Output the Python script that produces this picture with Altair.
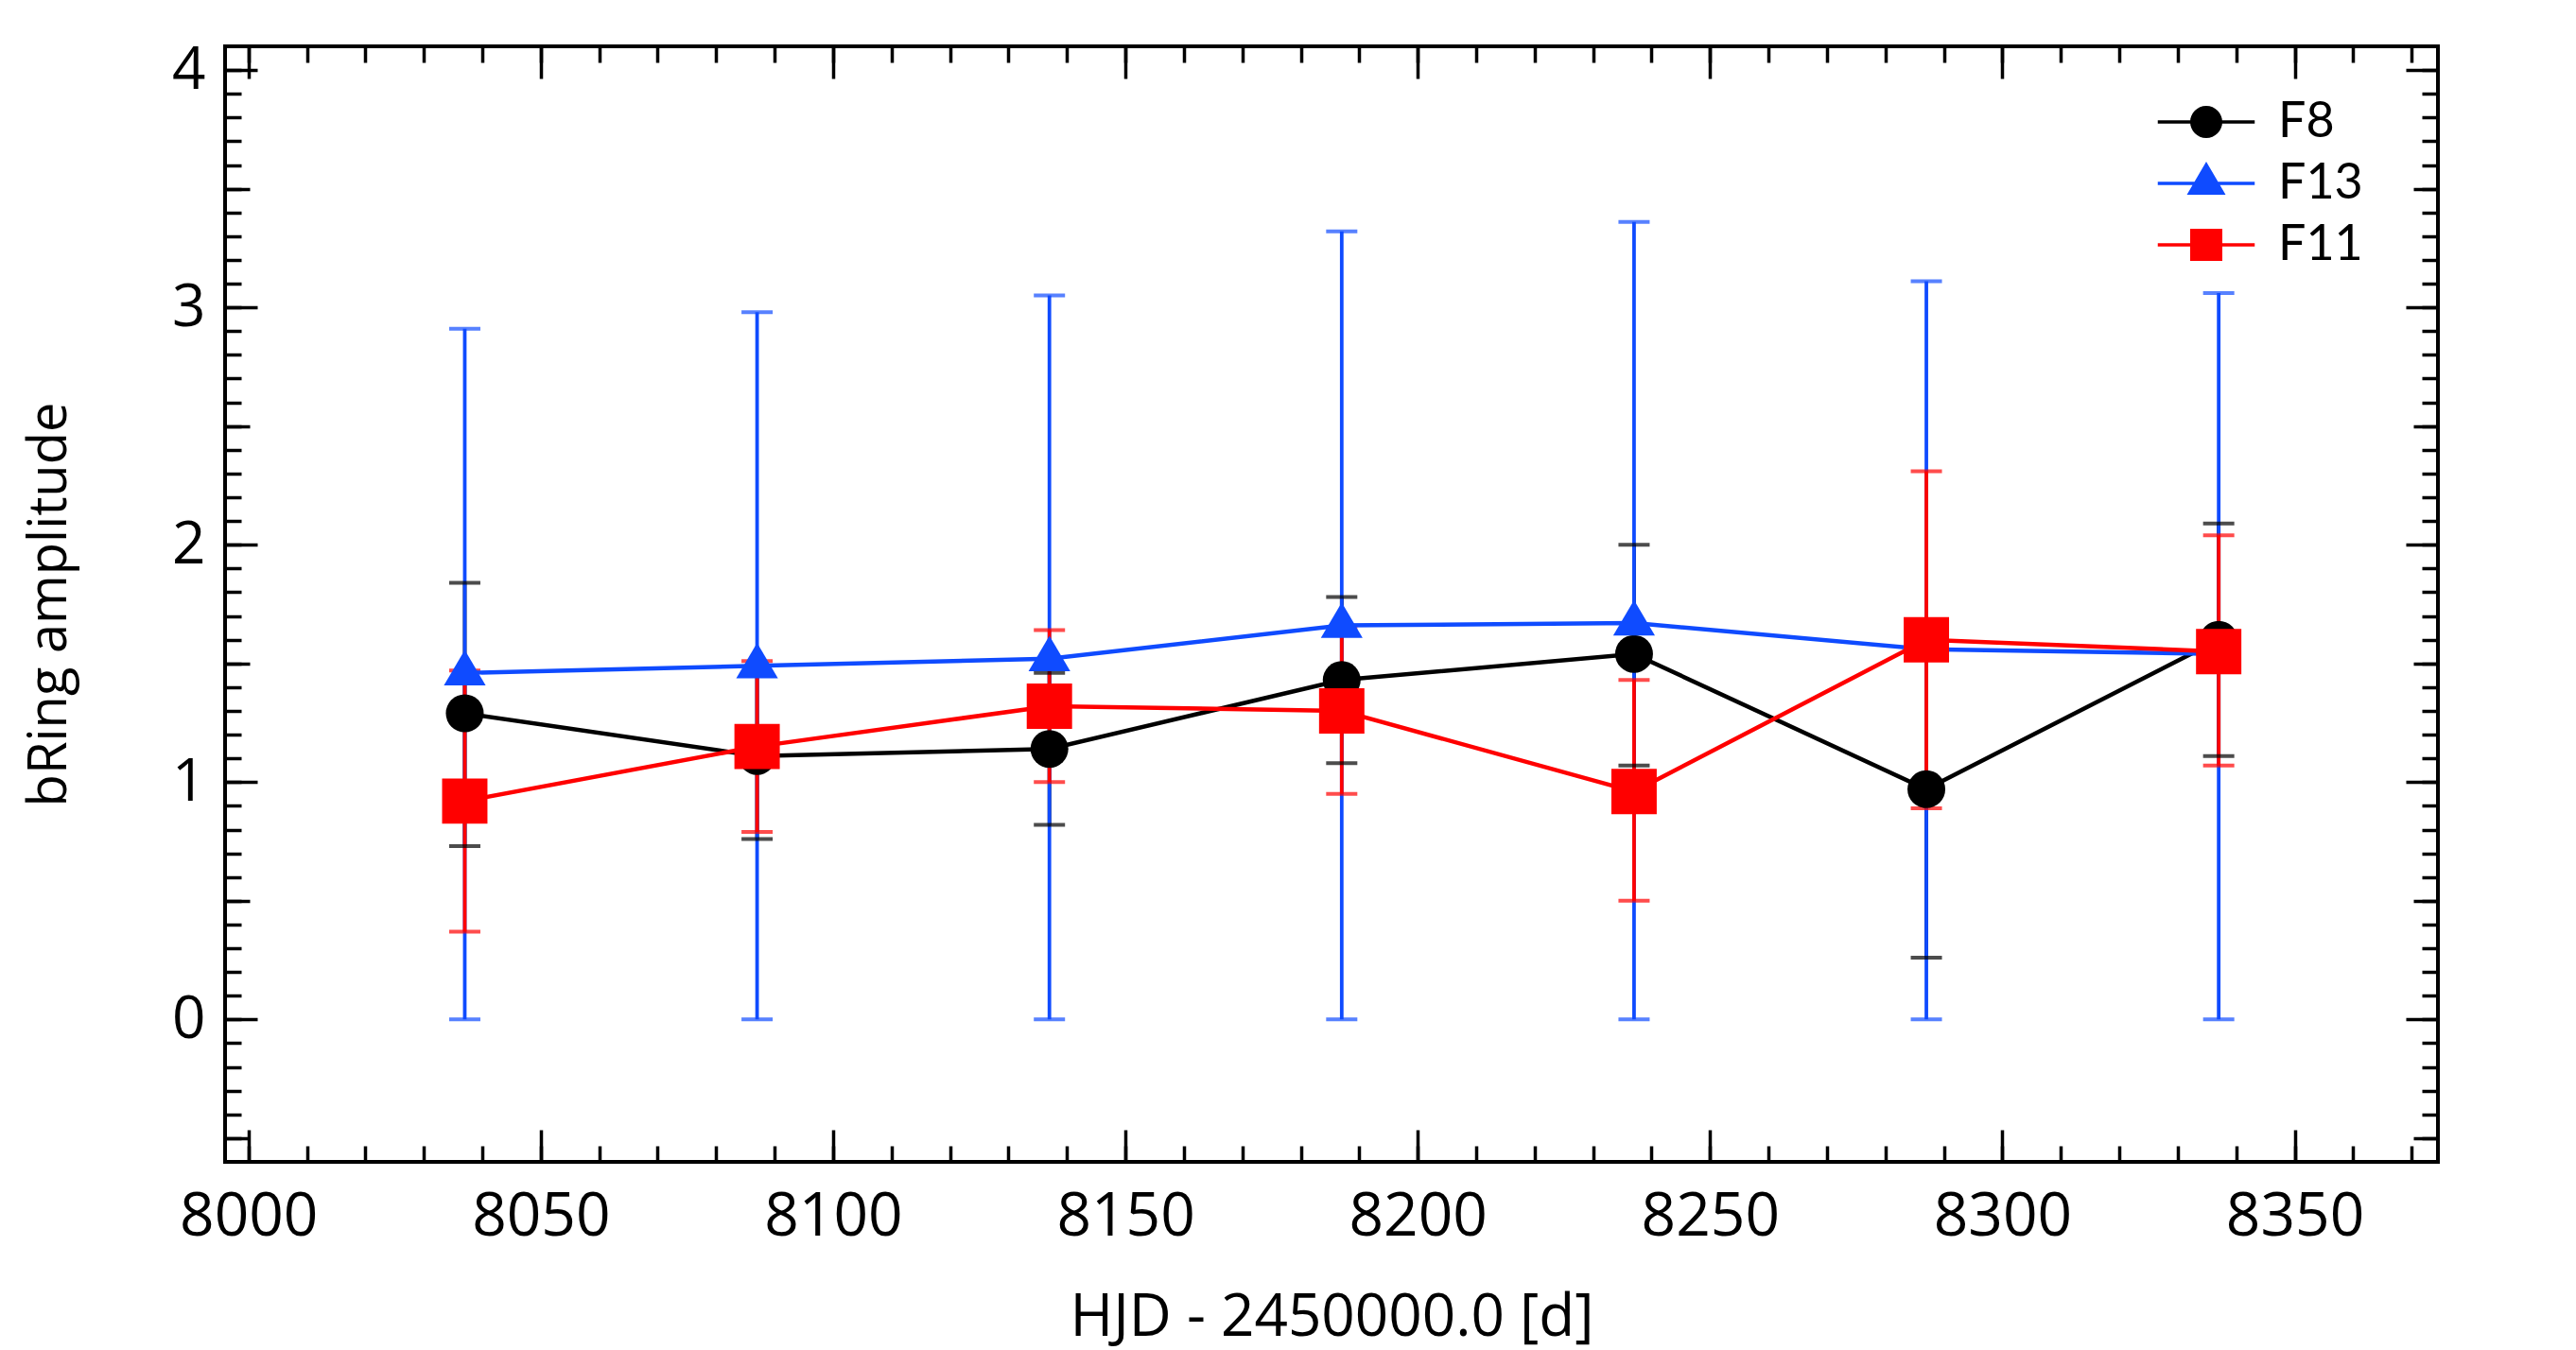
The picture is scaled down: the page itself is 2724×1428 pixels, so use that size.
import altair as alt
import pandas as pd

# ---------------- data ----------------
hjd = [8037, 8087, 8137, 8187, 8237, 8287, 8337]
series_names = ["F8", "F13", "F11"]

f8 = [1.29, 1.11, 1.14, 1.43, 1.54, 0.97, 1.60]
f8_lo = [0.73, 0.76, 0.82, 1.08, 1.07, 0.26, 1.11]
f8_hi = [1.84, 1.46, 1.46, 1.78, 2.00, 1.68, 2.09]

f13 = [1.46, 1.49, 1.52, 1.66, 1.67, 1.56, 1.54]
f13_lo = [0.0, 0.0, 0.0, 0.0, 0.0, 0.0, 0.0]
f13_hi = [2.91, 2.98, 3.05, 3.32, 3.36, 3.11, 3.06]

f11 = [0.92, 1.15, 1.32, 1.30, 0.96, 1.60, 1.55]
f11_lo = [0.37, 0.79, 1.00, 0.95, 0.50, 0.89, 1.07]
f11_hi = [1.47, 1.51, 1.64, 1.65, 1.43, 2.31, 2.04]

x_major = [8000, 8050, 8100, 8150, 8200, 8250, 8300, 8350]
x_minor = list(range(8000, 8375, 10))
y_major = [0, 1, 2, 3, 4]
y_mid = [-0.5, 0.5, 1.5, 2.5, 3.5]
y_minor = [round(-0.5 + 0.1 * i, 1) for i in range(46)]

rows = []
for name, vals, lo, hi in [("F8", f8, f8_lo, f8_hi),
                           ("F13", f13, f13_lo, f13_hi),
                           ("F11", f11, f11_lo, f11_hi)]:
    for x, v, l, h in zip(hjd, vals, lo, hi):
        rows.append({"series": name, "hjd": x, "amp": v, "lo": l, "hi": h})
df = pd.DataFrame(rows)

# ---------------- styling ----------------
FONT = "Open Sans"
LEG_FONT = "Lato"
COLORS = ["#000000", "#0f4bff", "#ff0000"]
W, H = 2340, 1180
X_DOM = [7996, 8374.5]
Y_DOM = [-0.6, 4.1]

xs = alt.Scale(domain=X_DOM, nice=False, zero=False)
ys = alt.Scale(domain=Y_DOM, nice=False, zero=False)
cscale = alt.Scale(domain=series_names, range=COLORS)

point_shapes = ["circle", "M0,-1.1L1,0.6L-1,0.6Z", "square"]
point_sizes = [1600, 2300, 1600]

bar = "M-2.05,-0.07L2.05,-0.07L2.05,0.07L-2.05,0.07Z "
legend_shapes = [
    bar + "M0.68,0A0.68,0.68 0 1,1 -0.68,0A0.68,0.68 0 1,1 0.68,0Z",
    bar + "M0,-0.92L0.82,0.48L-0.82,0.48Z",
    bar + "M-0.68,-0.68L0.68,-0.68L0.68,0.68L-0.68,0.68Z",
]

base = alt.Chart(df)
noax_x = alt.X("hjd:Q", scale=xs, axis=None)
col = alt.Color("series:N", scale=cscale, legend=None)

# error bars
err_rules = base.mark_rule(strokeWidth=3.8).encode(
    x=noax_x,
    y=alt.Y("lo:Q", scale=ys, axis=None),
    y2="hi:Q",
    color=col,
)
cap_lo = base.mark_tick(orient="horizontal", size=33, thickness=4).encode(
    x=noax_x, y=alt.Y("lo:Q", scale=ys, axis=None), color=col
)
cap_hi = base.mark_tick(orient="horizontal", size=33, thickness=4).encode(
    x=noax_x, y=alt.Y("hi:Q", scale=ys, axis=None), color=col
)

lines = base.mark_line(strokeWidth=4.5).encode(
    x=noax_x,
    y=alt.Y("amp:Q", scale=ys, axis=None),
    color=col,
    detail="series:N",
)

points = base.mark_point(filled=True, opacity=1).encode(
    x=noax_x,
    y=alt.Y("amp:Q", scale=ys, axis=None),
    color=col,
    shape=alt.Shape("series:N", scale=alt.Scale(domain=series_names, range=point_shapes), legend=None),
    size=alt.Size("series:N", scale=alt.Scale(domain=series_names, range=point_sizes), legend=None),
)

leg = alt.Legend(
    title=None, orient="none", legendX=2069, legendY=54, symbolSize=2500,
    labelFontSize=52, labelFont=LEG_FONT, labelColor="black", labelOffset=50,
    rowPadding=13, padding=0, symbolStrokeWidth=0, symbolOpacity=1,
)
legend_layer = base.mark_point(filled=True, opacity=1).encode(
    x=noax_x,
    y=alt.Y("amp:Q", scale=ys, axis=None),
    color=alt.Color("series:N", scale=cscale, legend=leg),
    shape=alt.Shape("series:N", scale=alt.Scale(domain=series_names, range=legend_shapes), legend=leg),
).transform_filter("false")

# ---------------- axes (inward ticks on all four sides) ----------------
tick_common = dict(domain=False, grid=False, labels=False, title=None,
                   tickColor="black", tickWidth=3.5)


def axis_layer(xaxis, yaxis):
    return base.mark_point(opacity=0).encode(
        x=alt.X("hjd:Q", scale=xs, axis=xaxis),
        y=alt.Y("amp:Q", scale=ys, axis=yaxis),
    )


xa_labels = alt.Axis(orient="bottom", values=x_major, ticks=False, tickSize=0,
                     labelPadding=26, labelFontSize=64, labelFont=FONT, labelColor="black",
                     format="d", title="HJD - 2450000.0 [d]", titleFontSize=62,
                     titleFont=FONT, titleFontWeight="normal", titleColor="black",
                     titlePadding=44, domain=False, grid=False)
ya_labels = alt.Axis(orient="left", values=y_major, ticks=False, tickSize=0,
                     labelPadding=21, labelFontSize=62, labelFont=FONT, labelColor="black",
                     format="d", title="bRing amplitude", titleFontSize=56,
                     titleFont=FONT, titleFontWeight="normal", titleColor="black",
                     titlePadding=100, domain=False, grid=False)

layers = [
    axis_layer(xa_labels, ya_labels),
    axis_layer(alt.Axis(orient="top", offset=-H, values=x_major, tickSize=34, **tick_common),
               alt.Axis(orient="right", offset=-W, values=y_major, tickSize=34, **tick_common)),
    axis_layer(alt.Axis(orient="top", offset=-H, values=x_minor, tickSize=17, **tick_common),
               alt.Axis(orient="right", offset=-W, values=y_mid, tickSize=26, **tick_common)),
    axis_layer(alt.Axis(orient="bottom", offset=-H, values=x_major, tickSize=34, **tick_common),
               alt.Axis(orient="right", offset=-W, values=y_minor, tickSize=17, **tick_common)),
    axis_layer(alt.Axis(orient="bottom", offset=-H, values=x_minor, tickSize=17, **tick_common),
               alt.Axis(orient="left", offset=-W, values=y_major, tickSize=34, **tick_common)),
    axis_layer(None,
               alt.Axis(orient="left", offset=-W, values=y_mid, tickSize=26, **tick_common)),
    axis_layer(None,
               alt.Axis(orient="left", offset=-W, values=y_minor, tickSize=17, **tick_common)),
    err_rules, cap_lo, cap_hi, lines, points, legend_layer,
]

chart = alt.layer(*layers).resolve_scale(
    color="independent", shape="independent", size="independent"
).resolve_axis(
    x="independent", y="independent"
).properties(
    width=W, height=H,
    background="white",
    padding={"left": 16, "top": 35, "right": 5, "bottom": 5},
).configure_view(
    stroke="black", strokeWidth=4
)

chart.save("out.html", embed_options={"renderer": "svg", "actions": False})
